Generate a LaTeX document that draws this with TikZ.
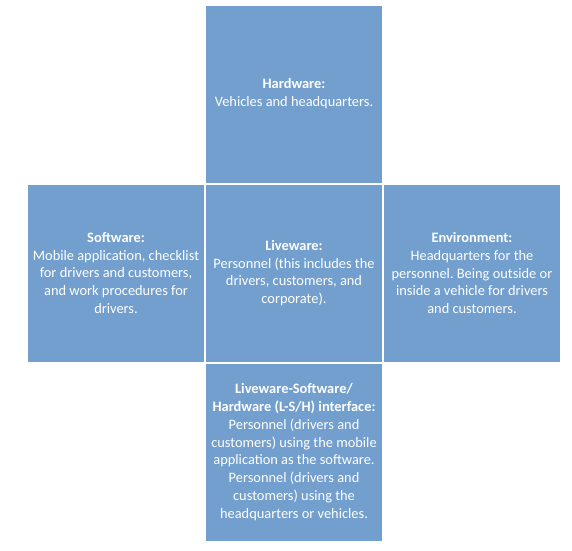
\documentclass[tikz,border=0pt]{standalone}
\usepackage{fontspec}
\setmainfont{Carlito}
\usetikzlibrary{positioning}
\definecolor{shellblue}{RGB}{114, 159, 205}
\frenchspacing

\begin{document}
\begin{tikzpicture}[
    element/.style={draw=white, line width=1pt, fill=shellblue, minimum width=177pt, minimum height=178pt, inner sep=0pt, align=center, text=white, font=\fontsize{14.4}{17.8}\selectfont},
    node distance=0pt
]
    \useasboundingbox (0pt,0pt) rectangle (572pt,-550pt);

    % Central element
    \node[element] (liveware) at (294pt,-273pt) {\textbf{Liveware:}\\Personnel (this includes the\\drivers, customers, and\\corporate).};

    % Surrounding elements
    \node[element, above=of liveware] (hardware) {\textbf{Hardware:}\\Vehicles and headquarters.};
    \node[element, left=of liveware] (software) {\textbf{Software:}\\Mobile application, checklist\\for drivers and customers,\\and work procedures for\\drivers.};
    \node[element, right=of liveware] (environment) {\textbf{Environment:}\\Headquarters for the\\personnel. Being outside or\\inside a vehicle for drivers\\and customers.};
    \node[element, below=of liveware] (interface) {\textbf{Liveware-Software/}\\\textbf{Hardware (L-S/H) interface:}\\Personnel (drivers and\\customers) using the mobile\\application as the software.\\Personnel (drivers and\\customers) using the\\headquarters or vehicles.};

\end{tikzpicture}
\end{document}
